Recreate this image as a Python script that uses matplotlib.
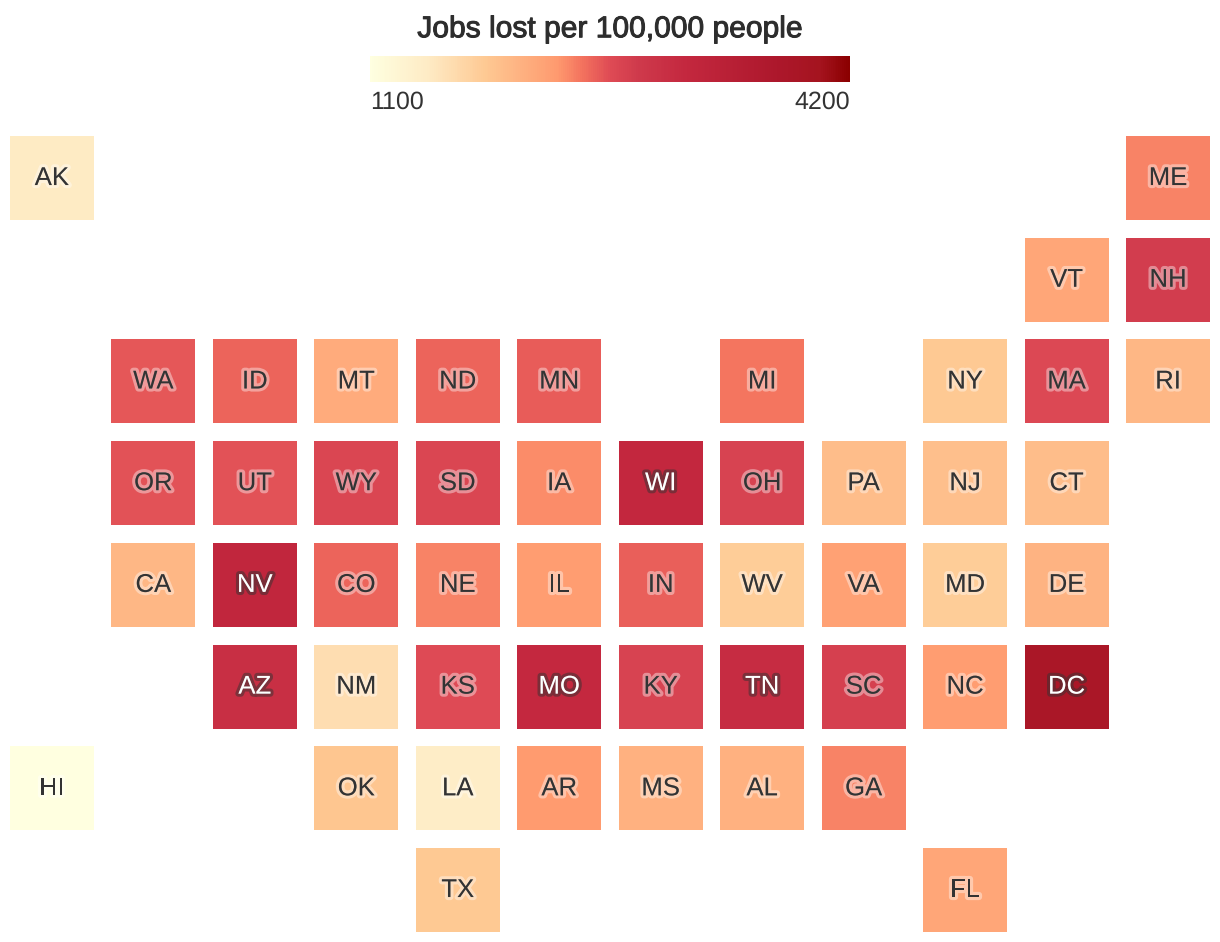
import matplotlib
matplotlib.use('Agg')
import matplotlib.pyplot as plt
import matplotlib.patheffects as pe
import numpy as np
from matplotlib.colors import LinearSegmentedColormap, Normalize
from matplotlib.patches import Rectangle

plt.rcParams['font.family'] = ['Liberation Sans', 'DejaVu Sans']
plt.rcParams['text.hinting'] = 'no_hinting'

W, H = 1220, 942

# values
states = ['AK', 'ME', 'VT', 'NH', 'WA', 'ID', 'MT', 'ND', 'MN', 'MI', 'NY', 'MA', 'RI',
          'OR', 'UT', 'WY', 'SD', 'IA', 'WI', 'OH', 'PA', 'NJ', 'CT',
          'CA', 'NV', 'CO', 'NE', 'IL', 'IN', 'WV', 'VA', 'MD', 'DE',
          'AZ', 'NM', 'KS', 'MO', 'KY', 'TN', 'SC', 'NC', 'DC',
          'HI', 'OK', 'LA', 'AR', 'MS', 'AL', 'GA', 'TX', 'FL']
jobs_lost = [1480, 2400, 2190, 2805, 2590, 2530, 2150, 2530, 2570, 2465, 1840, 2680, 2030,
             2620, 2620, 2710, 2710, 2370, 3180, 2740, 1970, 1940, 1970,
             2030, 3210, 2540, 2400, 2280, 2560, 1810, 2250, 1810, 2060,
             3020, 1630, 2650, 3150, 2740, 3080, 2770, 2280, 3830,
             1100, 1875, 1440, 2310, 2090, 2090, 2400, 1840, 2190]

# map layout, one string per row, '..' is an empty cell
grid_layout = [
    'AK .. .. .. .. .. .. .. .. .. .. ME',
    '.. .. .. .. .. .. .. .. .. .. VT NH',
    '.. WA ID MT ND MN .. MI .. NY MA RI',
    '.. OR UT WY SD IA WI OH PA NJ CT ..',
    '.. CA NV CO NE IL IN WV VA MD DE ..',
    '.. .. AZ NM KS MO KY TN SC NC DC ..',
    'HI .. .. OK LA AR MS AL GA .. .. ..',
    '.. .. .. .. TX .. .. .. .. FL .. ..',
]
scale_min, scale_max = 1100, 4200

cmap = LinearSegmentedColormap.from_list('jobs', [
    (0.0, '#ffffe0'), (0.12, '#feebc5'), (0.24, '#fec993'), (0.39, '#ff9a6f'),
    (0.44, '#f4745f'), (0.50, '#df4b55'), (0.56, '#cf3a4c'), (0.66, '#c4283f'),
    (0.85, '#ad182c'), (0.94, '#a5141f'), (1.0, '#8b0000')])
norm = Normalize(scale_min, scale_max)

fig = plt.figure(figsize=(W / 100, H / 100), dpi=100)

tile = 84 / 101.7
ax = fig.add_axes([10 / W, 1 - 932 / H, 1200 / W, 796 / H])
ax.set_xlim(0, 11 + tile)
ax.set_ylim(7 + tile, 0)
ax.axis('off')

value_of = dict(zip(states, jobs_lost))
for row, line in enumerate(grid_layout):
    for col, state in enumerate(line.split()):
        if state == '..':
            continue
        t = norm(value_of[state])
        ax.add_patch(Rectangle((col, row), tile, tile, facecolor=cmap(t), edgecolor='none'))
        # dark tiles get white text with a dark halo
        if t > 0.6:
            txt_color, halo = '#ffffff', (0.2, 0.2, 0.2, 0.5)
        else:
            txt_color, halo = '#333333', (1, 1, 1, 0.4)
        ax.text(col + tile / 2, row + tile / 2 + 0.003, state, ha='center', va='center',
                fontsize=18.5, color=txt_color,
                path_effects=[pe.withStroke(linewidth=4.5, foreground=halo)])

# legend
cax = fig.add_axes([370 / W, 1 - 82 / H, 480 / W, 26 / H])
cax.imshow(np.linspace(0, 1, 480).reshape(1, -1), cmap=cmap, aspect='auto', vmin=0, vmax=1)
cax.axis('off')

fig.text(610 / W, 1 - 29.5 / H, 'Jobs lost per 100,000 people', ha='center', va='center',
         fontsize=21.6, color='#2d2d2d',
         path_effects=[pe.withStroke(linewidth=0.7, foreground='#2d2d2d')])
fig.text(370 / W, 1 - 102 / H, str(scale_min), ha='left', va='center', fontsize=18, color='#333333')
fig.text(850 / W, 1 - 102 / H, str(scale_max), ha='right', va='center', fontsize=18, color='#333333')

fig.savefig('out.png', dpi=100)
